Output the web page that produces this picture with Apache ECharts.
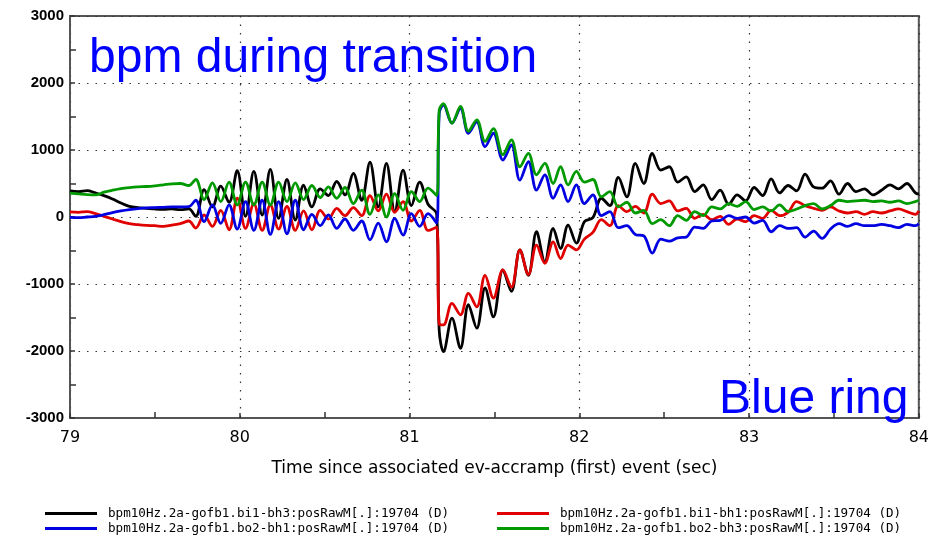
<!DOCTYPE html>
<html>
<head>
<meta charset="utf-8">
<script src="https://cdn.jsdelivr.net/npm/echarts@6/dist/echarts.min.js"></script>
<style>
html,body{margin:0;padding:0;background:#fff;}
#chart{width:932px;height:540px;}
</style>
</head>
<body>
<div id="chart"></div>
<script>
// time (sec) of each sample
const times = [
  79.00,79.05,79.10,79.15,79.20,79.25,79.30,79.35,79.40,79.45,79.50,79.55,79.60,79.65,79.70,
  79.741,79.79,79.839,79.888,79.937,79.985,80.034,80.083,80.132,80.18,80.229,80.278,80.327,80.376,80.425,
  80.474,80.522,80.571,80.62,80.669,80.718,80.767,80.816,80.864,80.913,80.962,81.011,81.06,81.109,
  81.16,81.175,81.20,81.25,81.30,81.347,81.396,81.445,81.494,81.55,81.60,81.65,81.70,81.748,81.797,81.846,81.89,81.934,81.983,82.03,
  82.08,82.13,82.18,82.23,82.28,82.33,82.38,82.43,82.48,82.53,82.58,82.63,82.68,82.73,82.78,82.83,82.88,82.93,82.98,83.03,
  83.08,83.13,83.18,83.23,83.28,83.33,83.38,83.43,83.48,83.53,83.58,83.63,83.68,83.73,83.78,83.83,83.88,83.93,83.98,84.00
];
const bi1bh3 = [
  390,380,395,360,320,270,210,160,140,130,120,115,120,110,120,
  10,410,150,460,220,690,10,680,30,710,-20,560,-45,477,150,
  420,320,530,330,650,250,820,150,800,80,700,170,520,190,
  40,-1700,-2010,-1510,-1960,-1310,-1660,-1060,-1490,-790,-1110,-490,-870,-220,-670,-170,-470,-120,-390,-70,
  -10,280,170,590,300,800,500,950,700,750,520,600,380,480,260,400,190,330,240,440,
  320,570,360,470,390,640,450,430,540,340,500,380,420,330,400,480,420,500,360,340
];
const bi1bh1 = [
  75,70,80,50,10,-30,-70,-100,-115,-125,-130,-140,-120,-100,-60,
  -165,30,-140,100,-190,280,-170,200,-200,180,-180,160,-200,90,-190,
  100,-30,130,20,140,20,320,90,340,70,230,-60,100,-200,
  -150,-1600,-1610,-1290,-1460,-1140,-1340,-870,-1210,-790,-1050,-490,-860,-420,-690,-370,-620,-420,-490,-330,
  -230,-40,-130,170,80,160,60,340,200,240,90,130,-20,40,-40,10,-110,-30,-70,20,
  -20,100,20,70,230,170,130,100,150,90,60,80,40,80,60,90,120,80,40,90
];
const bo2bh1 = [
  -5,-10,0,10,35,65,90,110,125,135,140,145,150,150,155,
  250,-70,180,-95,180,-180,230,-200,250,-260,230,-250,250,-190,40,
  -130,30,-170,-30,-200,-60,-340,-90,-370,-20,-270,50,-140,50,
  -90,1550,1670,1400,1620,1250,1420,1050,1250,850,1075,550,825,400,630,280,480,230,480,200,
  330,20,80,-160,-130,-260,-280,-540,-330,-360,-310,-300,-150,-170,-60,-50,20,-20,0,-90,
  -50,-220,-130,-170,-160,-300,-210,-320,-180,-100,-140,-100,-130,-130,-110,-130,-160,-110,-130,-100
];
const bo2bh3 = [
  355,345,335,330,370,400,425,440,450,455,465,480,495,500,470,
  560,260,510,230,520,180,520,180,520,180,520,230,510,260,470,
  290,450,280,440,200,400,40,330,0,350,100,380,230,430,
  320,1600,1690,1400,1650,1280,1450,1130,1320,930,1150,750,950,630,800,500,750,480,680,520,
  560,300,380,150,220,60,100,-100,-40,-130,20,-50,80,20,150,120,200,160,230,110,
  150,90,180,80,120,170,200,120,170,250,230,240,250,230,240,220,240,200,230,250
];
const seriesNames = [
  'bpm10Hz.2a-gofb1.bi1-bh3:posRawM[.]:19704 (D)',
  'bpm10Hz.2a-gofb1.bi1-bh1:posRawM[.]:19704 (D)',
  'bpm10Hz.2a-gofb1.bo2-bh1:posRawM[.]:19704 (D)',
  'bpm10Hz.2a-gofb1.bo2-bh3:posRawM[.]:19704 (D)'
];
const seriesValues = [bi1bh3, bi1bh1, bo2bh1, bo2bh3];
const seriesColors = ['#000000', '#e00000', '#0000e0', '#009a00'];
const xTitle = 'Time since associated ev-accramp (first) event (sec)';
const mainTitle = 'bpm during transition';
const ringTitle = 'Blue ring';

const chart = echarts.init(document.getElementById('chart'), null, {renderer: 'canvas'});
const dotted = {type: [1.5, 7], color: '#333', width: 1.2};
const legendText = {fontFamily: 'DejaVu Sans Mono, Liberation Mono, monospace', fontSize: 12.6, color: '#000', lineHeight: 13, padding: [0, 0, 0, 6]};
chart.setOption({
  backgroundColor: '#ffffff',
  animation: false,
  title: [
    {text: mainTitle, left: 84, top: 30, textStyle: {color: '#0000ff', fontSize: 48, fontWeight: 'normal', fontFamily: 'Liberation Sans, Arial, sans-serif'}},
    {text: ringTitle, left: 714, top: 371, textStyle: {color: '#0000ff', fontSize: 48, fontWeight: 'normal', fontFamily: 'Liberation Sans, Arial, sans-serif'}}
  ],
  legend: [
    {left: 40, top: 502, orient: 'vertical', itemGap: 2, itemWidth: 52, itemHeight: 3, icon: 'rect',
     data: [seriesNames[0], seriesNames[2]], textStyle: legendText, selectedMode: false},
    {left: 492, top: 502, orient: 'vertical', itemGap: 2, itemWidth: 52, itemHeight: 3, icon: 'rect',
     data: [seriesNames[1], seriesNames[3]], textStyle: legendText, selectedMode: false}
  ],
  grid: {left: 70, right: 10, top: 16, bottom: 122, show: true, borderColor: '#555', borderWidth: 2, backgroundColor: '#fff'},
  xAxis: {
    type: 'value', min: 79, max: 84, interval: 1,
    name: xTitle, nameLocation: 'middle', nameGap: 42,
    nameTextStyle: {fontFamily: 'DejaVu Sans, sans-serif', fontSize: 17, color: '#000'},
    axisLine: {onZero: false, lineStyle: {color: '#555', width: 2}},
    axisTick: {inside: true, length: 5, lineStyle: {color: '#333', width: 1.5}},
    minorTick: {show: true, splitNumber: 2, length: 6, lineStyle: {color: '#333', width: 1.5}},
    axisLabel: {margin: 12, fontFamily: 'DejaVu Sans, sans-serif', fontSize: 16, color: '#000'},
    splitLine: {show: true, lineStyle: dotted}
  },
  yAxis: {
    type: 'value', min: -3000, max: 3000, interval: 1000,
    axisLine: {show: true, onZero: false, lineStyle: {color: '#555', width: 2}},
    axisTick: {show: true, inside: true, length: 5, lineStyle: {color: '#333', width: 1.5}},
    minorTick: {show: true, splitNumber: 2, length: 6, lineStyle: {color: '#333', width: 1.5}},
    axisLabel: {margin: 6, fontFamily: 'Liberation Sans, Arial, sans-serif', fontSize: 15, fontWeight: 'bold', color: '#000',
      formatter: function (v) { return String(v); }},
    splitLine: {show: true, lineStyle: dotted}
  },
  series: seriesNames.map((name, k) => ({
    name: name,
    type: 'line',
    data: times.map((t, i) => [t, seriesValues[k][i]]),
    showSymbol: false,
    symbol: 'none',
    smooth: 0.35,
    color: seriesColors[k],
    lineStyle: {color: seriesColors[k], width: 2.8},
    z: 2 + k
  }))
});
</script>
</body>
</html>
